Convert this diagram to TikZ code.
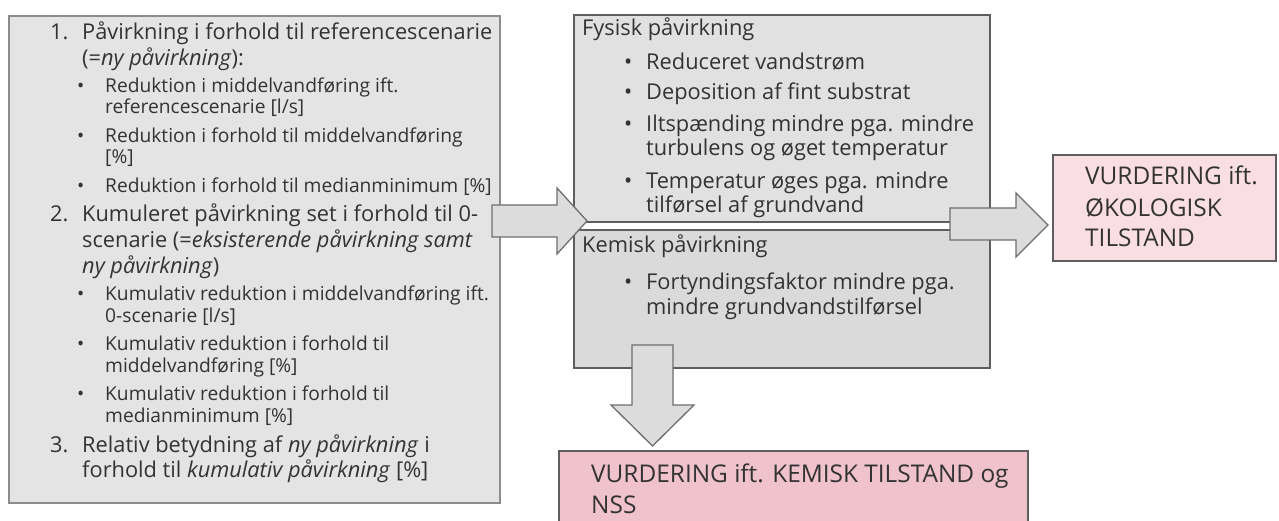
\documentclass[tikz,border=0pt]{standalone}
\usepackage{fontspec}
\setmainfont{Open Sans}
\definecolor{txtc}{HTML}{333333}
\definecolor{lboxfill}{HTML}{E4E4E4}
\definecolor{lboxdraw}{HTML}{8C8C8C}
\definecolor{gboxfill}{HTML}{E1E1E1}
\definecolor{kboxfill}{HTML}{DADADA}
\definecolor{gboxdraw}{HTML}{5E5E5E}
\definecolor{arrfill}{HTML}{DCDCDC}
\definecolor{arrdraw}{HTML}{6E6E6E}
\definecolor{pinklight}{HTML}{F9DEE4}
\definecolor{pinkdark}{HTML}{EFC2CC}
\newcommand\myline[5]{\node[#2] (#1) at (#3,#4) {#5};}
\begin{document}
\begin{tikzpicture}[x=1pt,y=-1pt,
  box/.style={anchor=north west, inner sep=0pt, outer sep=0pt},
  lbox/.style={box, fill=lboxfill, draw=lboxdraw, line width=1.3pt},
  gbox/.style={box, fill=gboxfill, draw=gboxdraw, line width=2.2pt},
  pbox/.style={box, draw=gboxdraw, line width=2pt},
  blockarrow/.style={fill=arrfill, draw=arrdraw, line width=1.3pt, line join=miter},
  ln/.style={anchor=base west, inner sep=0pt, text=txtc, font=\fontsize{21.8}{26}\selectfont},
  sub/.style={ln, font=\fontsize{19.2}{22}\selectfont},
  big/.style={ln, font=\fontsize{24.4}{30}\selectfont}]
\clip (0,0) rectangle (1279,521);
\fill[white] (0,0) rectangle (1279,521);

% boxes
\node[lbox, minimum width=491pt, minimum height=487pt] (left) at (9,16) {};
\node[gbox, minimum width=416pt, minimum height=207pt] (fys) at (574,15) {};
\node[gbox, fill=kboxfill, minimum width=416pt, minimum height=138pt] (kem) at (574,230) {};
\node[pbox, fill=pinklight, minimum width=223pt, minimum height=106pt] (eco) at (1053,155) {};
\node[pbox, fill=pinkdark, minimum width=469pt, minimum height=90pt] (chem) at (559,451) {};

% block arrows
\draw[blockarrow] (492,205) -- (557,205) -- (557,188) -- (587,221) -- (557,254) -- (557,237) -- (492,237) -- cycle;
\draw[blockarrow] (950,208) -- (1016,208) -- (1016,193) -- (1048,225) -- (1016,257) -- (1016,240) -- (950,240) -- cycle;
\draw[blockarrow] (632,345) -- (673,345) -- (673,405) -- (694,405) -- (652.5,446) -- (611,405) -- (632,405) -- cycle;

% left box text
\myline{n1}{ln}{50}{40}{1.}
\myline{t1}{ln}{82}{40}{Påvirkning i forhold til referencescenarie}
\myline{t2}{ln}{82}{66}{(=\textit{ny påvirkning}):}
\myline{b1}{sub}{77}{93}{•}
\myline{t3}{sub}{105}{93}{Reduktion i middelvandføring ift.}
\myline{t4}{sub}{105}{114}{referencescenarie [l/s]}
\myline{b2}{sub}{77}{143}{•}
\myline{t5}{sub}{105}{143}{Reduktion i forhold til middelvandføring}
\myline{t6}{sub}{105}{164}{[\%]}
\myline{b3}{sub}{77}{193}{•}
\myline{t7}{sub}{105}{193}{Reduktion i forhold til medianminimum [\%]}
\myline{n2}{ln}{50}{222}{2.}
\myline{t8}{ln}{82}{222}{Kumuleret påvirkning set i forhold til 0-}
\myline{t9}{ln}{82}{248}{scenarie (=\textit{eksisterende påvirkning samt}}
\myline{t10}{ln}{82}{273}{\textit{ny påvirkning})}
\myline{b4}{sub}{77}{300}{•}
\myline{t11}{sub}{105}{300}{Kumulativ reduktion i middelvandføring ift.}
\myline{t12}{sub}{105}{322}{0-scenarie [l/s]}
\myline{b5}{sub}{77}{350}{•}
\myline{t13}{sub}{105}{350}{Kumulativ reduktion i forhold til}
\myline{t14}{sub}{105}{372}{middelvandføring [\%]}
\myline{b6}{sub}{77}{400}{•}
\myline{t15}{sub}{105}{400}{Kumulativ reduktion i forhold til}
\myline{t16}{sub}{105}{422}{medianminimum [\%]}
\myline{n3}{ln}{50}{452}{3.}
\myline{t17}{ln}{82}{452}{Relativ betydning af \textit{ny påvirkning} i}
\myline{t18}{ln}{82}{477}{forhold til \textit{kumulativ påvirkning} [\%]}

% Fysisk / Kemisk text
\myline{f0}{ln}{582}{36}{Fysisk påvirkning}
\myline{fb1}{ln}{624}{70}{•}
\myline{f1}{ln}{646}{70}{Reduceret vandstrøm}
\myline{fb2}{ln}{624}{100}{•}
\myline{f2}{ln}{646}{100}{Deposition af fint substrat}
\myline{fb3}{ln}{624}{132}{•}
\myline{f3}{ln}{646}{132}{Iltspænding mindre pga. mindre}
\myline{f4}{ln}{646}{156}{turbulens og øget temperatur}
\myline{fb4}{ln}{624}{189}{•}
\myline{f5}{ln}{646}{189}{Temperatur øges pga. mindre}
\myline{f6}{ln}{646}{213}{tilførsel af grundvand}
\myline{k0}{ln}{582}{253}{Kemisk påvirkning}
\myline{kb1}{ln}{624}{290}{•}
\myline{k1}{ln}{646}{290}{Fortyndingsfaktor mindre pga.}
\myline{k2}{ln}{646}{314}{mindre grundvandstilførsel}

% pink text
\myline{e1}{big}{1085}{185}{VURDERING ift.}
\myline{e2}{big}{1085}{217}{ØKOLOGISK}
\myline{e3}{big}{1085}{247}{TILSTAND}
\myline{c1}{big}{591}{482}{VURDERING ift. KEMISK TILSTAND og}
\myline{c2}{big}{591}{513}{NSS}
\end{tikzpicture}
\end{document}
